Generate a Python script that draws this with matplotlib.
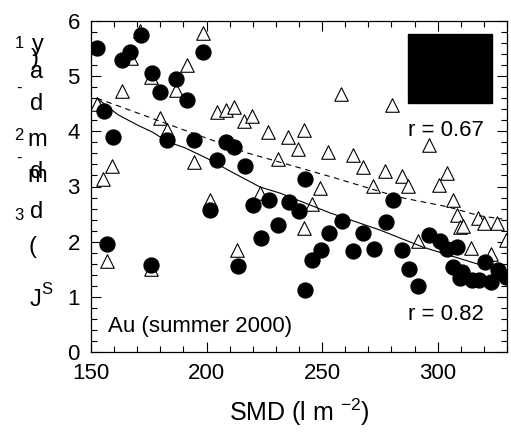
import numpy as np
import matplotlib
matplotlib.use("Agg")
import matplotlib.pyplot as plt
from matplotlib.patches import Rectangle
from matplotlib.ticker import MultipleLocator

plt.rcParams['font.family'] = ['Liberation Sans', 'DejaVu Sans']

# filled circles (r = 0.82)
circ_x = [152.6, 155.6, 159.5, 156.9, 163.4, 166.9, 171.6, 176.4, 179.9, 186.8,
          191.6, 182.9, 194.6, 198.5, 204.5, 208.4, 211.9, 216.7, 242.6, 280.7,
          235.7, 176.0, 201.5, 213.6, 220.1, 227.1, 240.0, 223.6, 231.0, 242.6,
          245.7, 249.6, 253.0, 258.7, 263.4, 267.7, 272.5, 277.7, 284.6, 287.7,
          291.6, 296.3, 301.1, 304.1, 308.4, 306.7, 310.6, 309.7, 314.9, 318.0,
          320.6, 323.2, 326.2, 329.7]
circ_y = [5.51, 4.37, 3.90, 1.96, 5.29, 5.44, 5.75, 5.06, 4.71, 4.95,
          4.57, 3.84, 3.84, 5.44, 3.48, 3.80, 3.72, 3.37, 3.14, 2.76,
          2.72, 1.58, 2.57, 1.56, 2.66, 2.76, 2.56, 2.07, 2.30, 1.12,
          1.67, 1.85, 2.16, 2.37, 1.83, 2.16, 1.87, 2.36, 1.85, 1.50,
          1.20, 2.12, 2.01, 1.87, 1.90, 1.54, 1.45, 1.34, 1.30, 1.30,
          1.63, 1.27, 1.49, 1.36]

# open triangles (r = 0.67)
tri_x = [152.6, 163.4, 167.3, 171.2, 159.1, 155.2, 176.0, 179.9, 182.9, 186.8,
         191.6, 194.6, 198.5, 204.5, 208.4, 211.9, 216.2, 219.7, 226.6, 231.0,
         235.3, 239.6, 242.2, 249.1, 252.6, 201.5, 223.2, 156.9, 176.0, 213.2,
         245.7, 242.2, 258.2, 280.3, 263.4, 267.7, 277.3, 284.6, 287.2, 272.1,
         296.3, 304.1, 300.6, 306.5, 308.4, 309.7, 310.8, 317.5, 320.1, 325.8,
         329.7, 291.6, 314.5, 323.2]
tri_y = [4.49, 4.73, 5.33, 5.82, 3.37, 3.14, 4.98, 4.24, 4.02, 4.75,
         5.20, 3.44, 5.78, 4.35, 4.39, 4.44, 4.19, 4.28, 3.99, 3.50,
         3.90, 3.68, 4.02, 2.97, 3.63, 2.75, 2.88, 1.65, 1.50, 1.85,
         2.69, 2.25, 4.68, 4.48, 3.57, 3.35, 3.28, 3.19, 3.01, 3.01,
         3.75, 3.24, 3.03, 2.76, 2.48, 2.27, 2.29, 2.43, 2.34, 2.34,
         2.03, 2.01, 1.88, 1.78]

# fitted curves
solid_x = [152.6, 161.7, 170.3, 176.4, 183.3, 190.7, 200.2, 211.0, 223.2, 231.8,
           253.5, 275.1, 293.7, 318.4, 322.0]
solid_y = [4.60, 4.30, 4.11, 3.99, 3.81, 3.70, 3.51, 3.26, 2.99, 2.88,
           2.52, 2.21, 1.90, 1.58, 1.55]
dash_x = [152.6, 169.0, 183.3, 205.0, 217.5, 231.8, 253.5, 268.6, 282.9, 304.5,
          318.0, 328.0]
dash_y = [4.60, 4.35, 4.13, 3.80, 3.61, 3.44, 3.18, 2.99, 2.81, 2.63,
          2.47, 2.41]

fig = plt.figure(figsize=(5.11, 4.32), dpi=100)
ax = fig.add_axes([91/511, 80/432, 416/511, 331/432])

ax.scatter(tri_x, tri_y, marker='^', s=95, facecolor='white', edgecolor='black',
           linewidth=0.8, zorder=2)
ax.plot(solid_x, solid_y, color='black', linewidth=0.8, zorder=3)
ax.plot(dash_x, dash_y, color='black', linewidth=0.8, linestyle=(0, (5, 4)), zorder=3)
ax.scatter(circ_x, circ_y, marker='o', s=115, color='black', zorder=4)

ax.set_xlim(150, 330)
ax.set_ylim(0, 6)
ax.set_xticks([150, 200, 250, 300])
ax.set_yticks([0, 1, 2, 3, 4, 5, 6])
ax.xaxis.set_minor_locator(MultipleLocator(10))
ax.yaxis.set_minor_locator(MultipleLocator(0.2))
ax.tick_params(which='both', direction='in', top=True, right=True,
               labelsize=16, width=0.8)
ax.tick_params(which='major', length=7, pad=8)
ax.tick_params(which='minor', length=4)
for sp in ax.spines.values():
    sp.set_linewidth(0.9)

ax.set_xlabel('SMD (l m $^{\\mathregular{-2}}$)', fontsize=18, labelpad=9)

# broken legend box
ax.add_patch(Rectangle((0.762, 0.752), 0.202, 0.209, transform=ax.transAxes,
                       color='black', zorder=5))
ax.text(0.762, 0.668, 'r = 0.67', transform=ax.transAxes, fontsize=16, va='center')
ax.text(0.762, 0.112, 'r = 0.82', transform=ax.transAxes, fontsize=16, va='center')
ax.text(0.041, 0.076, 'Au (summer 2000)', transform=ax.transAxes, fontsize=16,
        va='center')

# garbled vertical y label
def ft(px, py, s, size=17):
    fig.text(px/511, 1 - py/432, s, fontsize=size, ha='center', va='center')

ft(38, 45, 'y')
ft(35, 59, ')')
ft(37, 72, 'a')
ft(19, 44, '1', 12)
ft(19, 88, '-', 12)
ft(37, 104, 'd')
ft(19, 135, '2', 12)
ft(37, 140, 'm')
ft(19, 158, '-', 12)
ft(37, 172, 'd')
ft(37, 176, 'm')
ft(19, 216, '3', 12)
ft(37, 212, 'd')
ft(33, 247, '(')
ft(35, 300, 'J')
ft(47, 290, 'S', 12)

fig.savefig('out.png', dpi=100)
